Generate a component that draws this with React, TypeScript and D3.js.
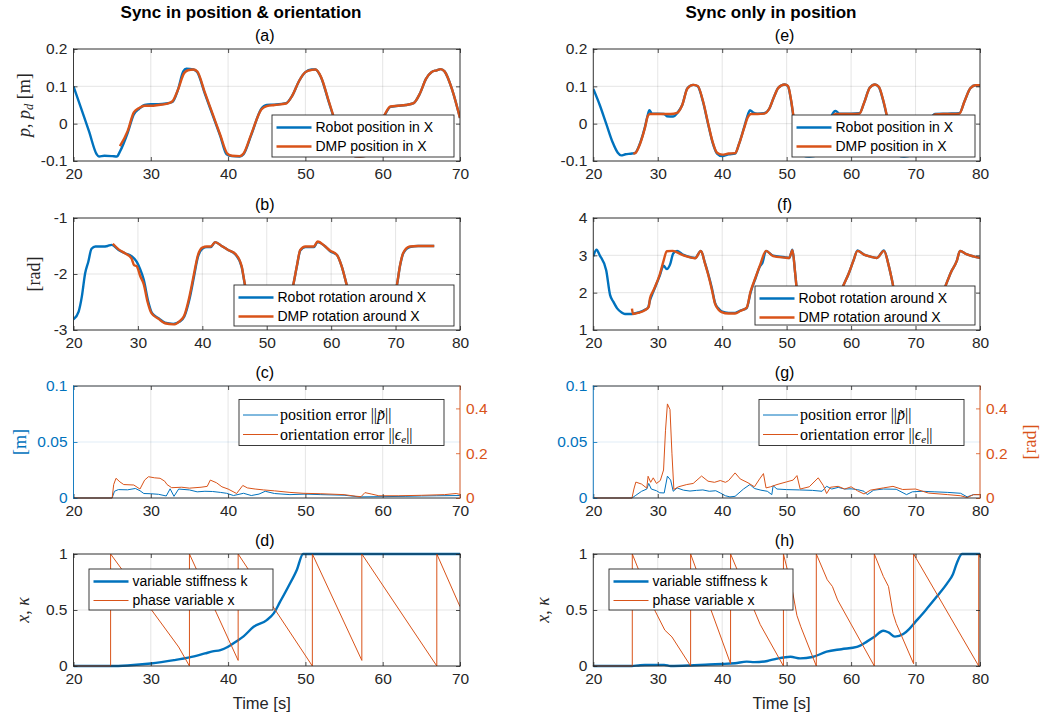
import React, { useEffect, useRef } from 'react';
import * as d3 from 'd3';

const BLUE = '#0072BD';
const ORANGE = '#D95319';
const AXIS = '#262626';
const SANS = '"Liberation Sans", Arial, Helvetica, sans-serif';
const SERIF = '"Liberation Serif", "Times New Roman", serif';

type Pt = [number, number];

// ---- (a) position X, sync in position & orientation
const posA_robot: Pt[] = [
  [20, 0.1], [21, 0.04], [22, -0.02], [23, -0.082], [23.3, -0.088], [24, -0.086], [25, -0.087], [25.6, -0.088],
  [26, -0.075], [27, -0.025], [27.8, 0.025], [28.5, 0.04], [29.2, 0.05], [30, 0.052], [31, 0.052], [32, 0.054],
  [32.8, 0.058], [33.5, 0.09], [34.2, 0.14], [34.6, 0.147], [35.5, 0.145], [36, 0.138], [37, 0.08], [38, 0.023],
  [39, -0.034], [39.8, -0.082], [40.5, -0.087], [41.5, -0.088], [42, -0.082], [43, -0.03], [44.3, 0.04], [45, 0.05],
  [46, 0.051], [47.5, 0.055], [48.3, 0.075], [49.2, 0.115], [50, 0.138], [50.8, 0.145], [51.3, 0.145], [52, 0.125],
  [53, 0.06], [54, -0.005], [55, -0.06], [56, -0.085], [57, -0.088], [57.8, -0.086], [58.5, -0.06], [59.5, -0.01],
  [60.2, 0.02], [61, 0.045], [62, 0.048], [63, 0.05], [64, 0.055], [64.8, 0.08], [65.6, 0.12], [66.3, 0.138],
  [67, 0.143], [67.5, 0.146], [68, 0.14], [69, 0.09], [70, 0.015],
];
const posA_dmp: Pt[] = [
  [26, -0.06], [27, -0.02], [27.8, 0.03], [28.5, 0.042], [29.2, 0.048], [30, 0.048], [31, 0.05], [32, 0.053],
  [32.8, 0.06], [33.5, 0.09], [34.3, 0.135], [34.8, 0.143], [35.5, 0.145], [36, 0.14], [37, 0.083], [38, 0.026],
  [39, -0.031], [39.9, -0.08], [40.5, -0.086], [41.5, -0.087], [42, -0.08], [43, -0.028], [44.3, 0.038], [45, 0.047],
  [46, 0.05], [47.5, 0.054], [48.3, 0.075], [49.2, 0.115], [50, 0.138], [50.8, 0.144], [51.3, 0.145], [52, 0.126],
  [53, 0.062], [54, -0.003], [55, -0.058], [56, -0.084], [57, -0.088], [57.8, -0.086], [58.5, -0.058], [59.5, -0.008],
  [60.2, 0.022], [61, 0.046], [62, 0.048], [63, 0.05], [64, 0.055], [64.8, 0.08], [65.6, 0.12], [66.3, 0.138],
  [67, 0.143], [67.5, 0.146], [68, 0.14], [69, 0.09], [70, 0.015],
];

// ---- (b) rotation X
const rotB_robot: Pt[] = [
  [20, -2.81], [20.8, -2.67], [21.3, -2.4], [21.8, -1.99], [22.3, -1.78], [22.8, -1.55], [23.4, -1.51], [24.5, -1.51],
  [25.3, -1.5], [25.9, -1.48], [27, -1.57], [28, -1.63], [29, -1.68], [29.8, -1.78], [30.3, -1.9], [30.9, -2.1],
  [31.6, -2.49], [32.2, -2.7], [33.2, -2.79], [34.2, -2.87], [35.5, -2.89], [36.5, -2.85], [37.2, -2.76], [38, -2.45],
  [38.7, -2.05], [39.3, -1.7], [40, -1.55], [40.7, -1.52], [41.3, -1.52], [42, -1.43], [43, -1.5], [44, -1.57],
  [45.2, -1.66], [46.1, -1.87], [46.6, -2.19], [47.5, -2.6], [48.5, -2.8], [50, -2.88], [51.5, -2.87], [52.5, -2.75],
  [53.4, -2.45], [54.1, -2.2], [54.7, -1.85], [55.2, -1.58], [56, -1.52], [57.3, -1.52], [57.9, -1.43], [59, -1.5],
  [59.8, -1.59], [60.9, -1.66], [61.6, -1.85], [62.4, -2.19], [63.3, -2.6], [64.3, -2.82], [66, -2.88], [67.5, -2.87],
  [68.6, -2.75], [69.5, -2.45], [70.2, -2.2], [70.7, -1.85], [71.2, -1.63], [72.2, -1.52], [73.5, -1.5], [76, -1.5],
];
const rotB_dmp: Pt[] = [
  [26.1, -1.46], [27, -1.56], [28, -1.63], [29, -1.72], [29.4, -1.84], [29.8, -1.86], [30.4, -2.05], [30.9, -2.18],
  [31.5, -2.5], [32.1, -2.7], [33.2, -2.8], [34.2, -2.88], [35.5, -2.9], [36.5, -2.84], [37.2, -2.74], [38, -2.4],
  [38.7, -2.0], [39.3, -1.67], [40, -1.53], [40.7, -1.51], [41.3, -1.51], [42, -1.43], [43, -1.5], [44, -1.57],
  [45.2, -1.65], [46.1, -1.86], [46.6, -2.18], [47.5, -2.6], [48.5, -2.8], [50, -2.88], [51.5, -2.87], [52.5, -2.75],
  [53.4, -2.45], [54.1, -2.2], [54.7, -1.84], [55.2, -1.57], [56, -1.51], [57.3, -1.51], [57.9, -1.42], [59, -1.5],
  [59.8, -1.58], [60.9, -1.66], [61.6, -1.85], [62.4, -2.19], [63.3, -2.6], [64.3, -2.82], [66, -2.88], [67.5, -2.87],
  [68.6, -2.75], [69.5, -2.45], [70.2, -2.2], [70.7, -1.84], [71.2, -1.62], [72.2, -1.51], [73.5, -1.5], [76, -1.5],
];

// ---- (c) tracking errors
const errC_pos: Pt[] = [
  [20, 0], [25, 0], [25.3, 0.006], [25.8, 0.0075], [27, 0.0073], [28, 0.0085], [28.6, 0.0065], [29.1, 0.004],
  [30, 0.0038], [31, 0.0033], [32, 0.0018], [32.5, 0.0082], [33, 0.0015], [33.6, 0.008], [35, 0.0072], [36, 0.0055],
  [37, 0.006], [38, 0.0058], [39, 0.005], [39.8, 0.0042], [40.7, 0.0022], [42, 0.0042], [43, 0.0022], [44, 0.0035],
  [44.8, 0.006], [46, 0.004], [48, 0.003], [50, 0.0035], [52, 0.003], [55, 0.0025], [57, 0.001], [60, 0.0012],
  [63, 0.0015], [65, 0.0018], [67, 0.002], [70, 0.0022],
];
const errC_rot: Pt[] = [
  [20, 0], [25, 0], [25.2, 0.06], [25.5, 0.088], [26, 0.072], [26.5, 0.06], [27.8, 0.058], [28.6, 0.04],
  [29.2, 0.08], [29.7, 0.095], [30.5, 0.09], [31.2, 0.088], [31.8, 0.075], [32.1, 0.06], [32.7, 0.046], [34, 0.048],
  [35, 0.044], [36.5, 0.048], [37.3, 0.052], [37.7, 0.08], [38.5, 0.068], [39.2, 0.05], [40, 0.04], [41.1, 0.02],
  [41.9, 0.056], [42.5, 0.045], [43.5, 0.04], [44.6, 0.036], [46, 0.032], [48, 0.025], [49.7, 0.021], [52, 0.019],
  [55, 0.015], [56.5, 0.008], [57.2, 0.006], [57.7, 0.024], [58.5, 0.018], [59.5, 0.01], [62, 0.01], [65, 0.012],
  [68, 0.015], [69.5, 0.02], [70, 0.016],
];

// ---- (d) stiffness and phase
const stiffD: Pt[] = [
  [20, 0], [24.8, 0], [27, 0.005], [30, 0.022], [33, 0.052], [35, 0.077], [37, 0.112], [38, 0.13], [39, 0.142],
  [40, 0.172], [41, 0.217], [42, 0.265], [43.3, 0.35], [45, 0.41], [45.9, 0.47], [46.7, 0.57], [47.8, 0.71],
  [48.9, 0.86], [49.7, 1.0], [70, 1.0],
];
const phaseD: Pt[] = [
  [20, 0], [24.8, 0], [24.8, 1], [33.6, 0.17], [35, 0], [35, 1], [41.3, 0.05], [41.3, 1], [50.9, 0], [50.9, 1],
  [57.3, 0.05], [57.3, 1], [67, 0], [67, 1], [70, 0.53],
];

// ---- (e) position X, sync only in position
const posE_robot: Pt[] = [
  [20, 0.093], [21, 0.05], [22, 0.0], [23, -0.05], [23.8, -0.078], [24.3, -0.085], [25, -0.082], [26, -0.08],
  [26.5, -0.078], [27.3, -0.05], [28, -0.01], [28.4, 0.02], [28.7, 0.036], [29.1, 0.027], [30, 0.027], [31, 0.026],
  [31.4, 0.02], [32.4, 0.019], [33, 0.028], [33.8, 0.05], [34.6, 0.095], [35.5, 0.104], [36.2, 0.1], [37, 0.06],
  [37.8, 0.0], [38.5, -0.05], [39.2, -0.08], [40, -0.087], [41, -0.082], [42, -0.08], [42.6, -0.055], [43.4, -0.01],
  [44, 0.025], [44.3, 0.036], [44.8, 0.03], [45.5, 0.027], [46.5, 0.028], [47.3, 0.04], [48, 0.07], [48.7, 0.096],
  [49.7, 0.105], [50.2, 0.1], [50.7, 0.06], [51.2, 0.0], [51.8, -0.055], [52.5, -0.085], [53.5, -0.088], [55, -0.083],
  [55.8, -0.06], [56.5, -0.01], [57, 0.022], [57.6, 0.034], [58.2, 0.027], [60, 0.027], [61.3, 0.028], [62, 0.055],
  [62.9, 0.097], [63.7, 0.105], [64.3, 0.098], [65, 0.06], [65.8, 0.0], [66.6, -0.06], [67.3, -0.085], [68.2, -0.088],
  [69.5, -0.083], [70.5, -0.07], [71.5, -0.03], [72.3, 0.01], [73, 0.026], [75, 0.027], [76.8, 0.028], [77.6, 0.06],
  [78.5, 0.095], [79.3, 0.103], [80, 0.102],
];
const posE_dmp: Pt[] = [
  [26.2, -0.08], [26.5, -0.079], [27.3, -0.052], [28, -0.012], [28.5, 0.022], [28.8, 0.026], [30, 0.026], [31, 0.026],
  [32, 0.026], [33, 0.029], [33.8, 0.05], [34.6, 0.094], [35.5, 0.104], [36.2, 0.101], [37, 0.062], [37.8, 0.002],
  [38.5, -0.048], [39.2, -0.078], [40, -0.083], [41, -0.08], [42, -0.079], [42.6, -0.055], [43.4, -0.012], [44, 0.018],
  [44.5, 0.026], [45.5, 0.026], [46.5, 0.027], [47.3, 0.04], [48, 0.07], [48.7, 0.096], [49.7, 0.105], [50.2, 0.101],
  [50.7, 0.062], [51.2, 0.002], [51.8, -0.053], [52.5, -0.083], [53.5, -0.086], [55, -0.082], [55.8, -0.058],
  [56.5, -0.01], [57, 0.018], [57.6, 0.026], [58.2, 0.026], [60, 0.026], [61.3, 0.027], [62, 0.055], [62.9, 0.096],
  [63.7, 0.105], [64.3, 0.099], [65, 0.062], [65.8, 0.002], [66.6, -0.058], [67.3, -0.083], [68.2, -0.086],
  [69.5, -0.082], [70.5, -0.068], [71.5, -0.03], [72.3, 0.008], [73, 0.025], [75, 0.026], [76.8, 0.027], [77.6, 0.06],
  [78.5, 0.095], [79.3, 0.103], [80, 0.103],
];

// ---- (f) rotation X
const rotF_robot: Pt[] = [
  [20, 2.97], [20.5, 3.15], [21, 3.0], [22, 2.6], [22.6, 1.94], [23.1, 1.76], [23.7, 1.58], [24.4, 1.47],
  [24.9, 1.43], [26, 1.43], [27, 1.47], [28, 1.54], [28.5, 1.6], [28.8, 1.8], [29.3, 2.02], [30.3, 2.45],
  [30.9, 2.72], [31.4, 2.63], [31.9, 2.75], [32.4, 3.05], [33, 3.12], [33.8, 3.03], [34.5, 2.98], [35.8, 2.93],
  [36.7, 3.12], [37.3, 2.81], [37.8, 2.52], [38.4, 2.12], [38.9, 1.72], [39.4, 1.58], [39.9, 1.5], [41, 1.46],
  [42, 1.46], [42.8, 1.52], [43.8, 1.59], [44.4, 2.0], [45.2, 2.4], [45.9, 2.72], [46.2, 2.78], [46.8, 3.12],
  [47.9, 2.99], [49.7, 2.95], [50.4, 2.93], [50.9, 3.15], [51.3, 2.56], [51.6, 2.05], [52.2, 1.65], [53, 1.48],
  [54.5, 1.45], [56, 1.47], [57, 1.54], [58, 1.85], [58.8, 2.19], [59.6, 2.5], [60.35, 2.85], [61, 3.13],
  [62, 3.02], [62.9, 2.97], [64, 2.93], [65.1, 3.13], [65.8, 2.75], [66.3, 2.37], [66.8, 1.95], [67.6, 1.58],
  [68.5, 1.47], [70.5, 1.45], [72.5, 1.52], [73.5, 1.7], [74.6, 2.16], [75.5, 2.55], [76.4, 2.85], [76.9, 3.12],
  [77.9, 3.03], [79, 2.97], [80, 2.93],
];
const rotF_dmp: Pt[] = [
  [26, 1.57], [26.15, 1.43], [27, 1.46], [28, 1.53], [28.6, 1.62], [28.8, 1.85], [29.3, 2.05], [30.3, 2.48],
  [30.9, 2.85], [31.4, 3.11], [32.3, 3.12], [33, 3.08], [33.8, 3.01], [34.5, 2.97], [35.8, 2.92], [36.7, 3.12],
  [37.3, 2.8], [37.8, 2.5], [38.4, 2.08], [38.9, 1.7], [39.4, 1.55], [39.9, 1.48], [41, 1.44], [42, 1.44],
  [42.8, 1.51], [43.8, 1.6], [44.4, 2.03], [45.2, 2.42], [45.9, 2.75], [46.8, 3.12], [47.9, 2.98], [49.7, 2.94],
  [50.4, 2.93], [50.9, 3.14], [51.3, 2.56], [51.6, 2.05], [52.2, 1.65], [53, 1.48], [54.5, 1.45], [56, 1.47],
  [57, 1.54], [58, 1.85], [58.8, 2.19], [59.6, 2.5], [60.35, 2.85], [61, 3.12], [62, 3.02], [62.9, 2.97],
  [64, 2.93], [65.1, 3.12], [65.8, 2.75], [66.3, 2.37], [66.8, 1.95], [67.6, 1.58], [68.5, 1.47], [70.5, 1.45],
  [72.5, 1.52], [73.5, 1.7], [74.6, 2.16], [75.5, 2.55], [76.4, 2.85], [76.9, 3.12], [77.9, 3.03], [79, 2.97],
  [80, 2.93],
];

// ---- (g) tracking errors
const errG_pos: Pt[] = [
  [20, 0], [26, 0], [26.5, 0.002], [27.5, 0.006], [28.3, 0.008], [28.6, 0.013], [29, 0.008], [29.8, 0.0065],
  [30.3, 0.0047], [31, 0.0045], [31.5, 0.0195], [32, 0.016], [32.4, 0.006], [33, 0.009], [34, 0.007], [35, 0.0062],
  [36, 0.0068], [37, 0.0072], [38, 0.006], [39, 0.0065], [39.7, 0.0045], [40.5, 0.002], [41.2, 0.001], [42, 0.0015],
  [43.3, 0.008], [44.3, 0.012], [45, 0.0085], [46, 0.007], [47, 0.006], [47.7, 0.003], [47.9, 0.011], [48.5, 0.008],
  [50, 0.0075], [52, 0.0072], [54, 0.0068], [55.5, 0.006], [56.2, 0.0105], [57, 0.008], [58, 0.0095], [59, 0.008],
  [60, 0.0082], [61, 0.0075], [62, 0.006], [62.5, 0.003], [63.5, 0.007], [65, 0.008], [67, 0.0078], [68.6, 0.003],
  [69.5, 0.0055], [71, 0.006], [73, 0.0055], [75, 0.005], [77, 0.0042], [78, 0.001], [79, 0.003], [80, 0.003],
];
const errG_rot: Pt[] = [
  [20, 0], [26, 0], [26.3, 0.04], [26.6, 0.071], [27.5, 0.062], [28.3, 0.044], [28.5, 0.097], [28.9, 0.07],
  [29.3, 0.09], [29.8, 0.065], [30.4, 0.078], [30.9, 0.125], [31.2, 0.3], [31.5, 0.42], [31.9, 0.395], [32.2, 0.2],
  [32.5, 0.038], [33.2, 0.05], [34.5, 0.06], [35.5, 0.065], [36.8, 0.098], [37.8, 0.075], [38.8, 0.07], [39.7, 0.078],
  [40.5, 0.07], [41, 0.078], [42, 0.112], [42.8, 0.085], [44, 0.068], [45, 0.05], [45.8, 0.085], [46.4, 0.109],
  [46.8, 0.045], [47.5, 0.05], [48.5, 0.06], [50, 0.072], [51, 0.08], [51.6, 0.1], [52.1, 0.04], [53.5, 0.05],
  [54.9, 0.09], [55.7, 0.055], [56.2, 0.02], [56.8, 0.048], [58, 0.052], [59, 0.04], [60, 0.05], [61, 0.032],
  [62, 0.018], [63, 0.035], [65, 0.045], [66.5, 0.052], [68, 0.038], [70, 0.04], [72, 0.022], [75, 0.015],
  [77, 0.01], [78, 0.002], [79, 0.015], [80, 0.015],
];

// ---- (h) stiffness and phase
const stiffH: Pt[] = [
  [20, 0], [26, 0], [27, 0.005], [28, 0.009], [31, 0.01], [32, 0.0], [35, 0.005], [38, 0.014], [40, 0.018],
  [42, 0.025], [43.8, 0.039], [45, 0.035], [47, 0.045], [48.5, 0.066], [50.6, 0.083], [52.1, 0.068], [54, 0.08],
  [56.2, 0.128], [58.5, 0.15], [60.9, 0.17], [62.5, 0.22], [63.5, 0.256], [65, 0.315], [65.8, 0.3], [66.8, 0.262],
  [68.1, 0.285], [69, 0.33], [70, 0.396], [71, 0.46], [71.8, 0.515], [73.3, 0.62], [74.9, 0.738], [75.8, 0.82],
  [76.4, 0.917], [77.2, 1.0], [80, 1.0],
];
const phaseH: Pt[] = [
  [20, 0], [26.05, 0], [26.05, 1], [29.6, 0.49], [31.1, 0.32], [32.2, 0.26], [35.1, 0], [35.1, 1], [41.3, 0.02],
  [41.3, 1], [45.9, 0.37], [49.5, 0], [49.5, 1], [50.8, 0.7], [51.6, 0.45], [52.2, 0.35], [54.6, 0], [54.6, 1],
  [56.3, 0.77], [57.1, 0.71], [57.9, 0.59], [63.6, 0], [63.6, 1], [65, 0.8], [65.8, 0.71], [66.5, 0.47], [67, 0.38],
  [69.7, 0.02], [69.7, 1], [79.8, 0], [79.8, 1], [80, 0.97],
];

const ticks70 = [20, 30, 40, 50, 60, 70];
const ticks80 = [20, 30, 40, 50, 60, 70, 80];
const colTitles = ['Sync in position & orientation', 'Sync only in position'];
const legendPos = ['Robot position in X', 'DMP position in X'];
const legendRot = ['Robot rotation around X', 'DMP rotation around X'];
const legendStiff = ['variable stiffness k', 'phase variable x'];

// layout
const W = 1047;
const H = 720;
const COLS = [{ x0: 73.5, x1: 460 }, { x0: 593.3, x1: 980 }];
const ROWS = [49, 218, 386, 554];
const PH = 112;

type Series = { data: Pt[]; color: string; width: number; right?: boolean; smooth?: boolean };
type Legend = { x: number; y: number; w: number; h: number; serif?: boolean; labels: string[] };
type Panel = {
  key: string; col: number; row: number; title: string;
  xDomain: [number, number]; xTicks: number[];
  yDomain: [number, number]; yTicks: number[];
  right?: { domain: [number, number]; ticks: number[]; label?: boolean };
  yLabel?: 'pos' | 'rad' | 'm' | 'xk';
  xLabel?: boolean;
  series: Series[]; legend: Legend;
};

const thick = 2.4;
const PANELS: Panel[] = [
  {
    key: 'a', col: 0, row: 0, title: '(a)', xDomain: [20, 70], xTicks: ticks70,
    yDomain: [-0.1, 0.2], yTicks: [-0.1, 0, 0.1, 0.2], yLabel: 'pos',
    series: [
      { data: posA_robot, color: BLUE, width: thick, smooth: true },
      { data: posA_dmp, color: ORANGE, width: thick, smooth: true },
    ],
    legend: { x: 272, y: 115, w: 182, h: 42, labels: legendPos },
  },
  {
    key: 'b', col: 0, row: 1, title: '(b)', xDomain: [20, 80], xTicks: ticks80,
    yDomain: [-3, -1], yTicks: [-3, -2, -1], yLabel: 'rad',
    series: [
      { data: rotB_robot, color: BLUE, width: thick, smooth: true },
      { data: rotB_dmp, color: ORANGE, width: thick, smooth: true },
    ],
    legend: { x: 234, y: 285, w: 220, h: 41, labels: legendRot },
  },
  {
    key: 'c', col: 0, row: 2, title: '(c)', xDomain: [20, 70], xTicks: ticks70,
    yDomain: [0, 0.1], yTicks: [0, 0.05, 0.1], yLabel: 'm',
    right: { domain: [0, 0.5], ticks: [0, 0.2, 0.4] },
    series: [
      { data: errC_pos, color: BLUE, width: 1 },
      { data: errC_rot, color: ORANGE, width: 1, right: true },
    ],
    legend: { x: 239, y: 399.5, w: 205, h: 46, serif: true, labels: [] },
  },
  {
    key: 'd', col: 0, row: 3, title: '(d)', xDomain: [20, 70], xTicks: ticks70,
    yDomain: [0, 1], yTicks: [0, 0.5, 1], yLabel: 'xk', xLabel: true,
    series: [
      { data: stiffD, color: BLUE, width: thick, smooth: true },
      { data: phaseD, color: ORANGE, width: 1 },
    ],
    legend: { x: 89, y: 569, w: 184, h: 41, labels: legendStiff },
  },
  {
    key: 'e', col: 1, row: 0, title: '(e)', xDomain: [20, 80], xTicks: ticks80,
    yDomain: [-0.1, 0.2], yTicks: [-0.1, 0, 0.1, 0.2],
    series: [
      { data: posE_robot, color: BLUE, width: thick, smooth: true },
      { data: posE_dmp, color: ORANGE, width: thick, smooth: true },
    ],
    legend: { x: 792, y: 115, w: 183, h: 42, labels: legendPos },
  },
  {
    key: 'f', col: 1, row: 1, title: '(f)', xDomain: [20, 80], xTicks: ticks80,
    yDomain: [1, 4], yTicks: [1, 2, 3, 4],
    series: [
      { data: rotF_robot, color: BLUE, width: thick, smooth: true },
      { data: rotF_dmp, color: ORANGE, width: thick, smooth: true },
    ],
    legend: { x: 755, y: 286, w: 220, h: 39, labels: legendRot },
  },
  {
    key: 'g', col: 1, row: 2, title: '(g)', xDomain: [20, 80], xTicks: ticks80,
    yDomain: [0, 0.1], yTicks: [0, 0.05, 0.1],
    right: { domain: [0, 0.5], ticks: [0, 0.2, 0.4], label: true },
    series: [
      { data: errG_pos, color: BLUE, width: 1 },
      { data: errG_rot, color: ORANGE, width: 1, right: true },
    ],
    legend: { x: 759, y: 399.5, w: 205, h: 46, serif: true, labels: [] },
  },
  {
    key: 'h', col: 1, row: 3, title: '(h)', xDomain: [20, 80], xTicks: ticks80,
    yDomain: [0, 1], yTicks: [0, 0.5, 1], yLabel: 'xk', xLabel: true,
    series: [
      { data: stiffH, color: BLUE, width: thick, smooth: true },
      { data: phaseH, color: ORANGE, width: 1 },
    ],
    legend: { x: 609, y: 569, w: 184, h: 41, labels: legendStiff },
  },
];

const fmt = (d: d3.NumberValue) => String(+d);

function styleAxis(g: any, color: string) {
  g.select('.domain').remove();
  g.attr('font-size', 15.5).attr('font-family', SANS);
  g.selectAll('line').attr('stroke', color).attr('stroke-width', 0.8);
  g.selectAll('text').attr('fill', color);
}

function drawPanel(svg: any, p: Panel) {
  const col = COLS[p.col];
  const top = ROWS[p.row];
  const bottom = top + PH;
  const x = d3.scaleLinear().domain(p.xDomain).range([col.x0, col.x1]);
  const y = d3.scaleLinear().domain(p.yDomain).range([bottom, top]);
  const yR = p.right ? d3.scaleLinear().domain(p.right.domain).range([bottom, top]) : y;
  const g = svg.append('g').attr('class', 'panel-' + p.key);

  // grid
  g.selectAll('.gx').data(p.xTicks).enter().append('line')
    .attr('x1', (d: number) => x(d)).attr('x2', (d: number) => x(d))
    .attr('y1', top).attr('y2', bottom)
    .attr('stroke', AXIS).attr('stroke-opacity', 0.15).attr('stroke-width', 0.8);
  g.selectAll('.gy').data(p.yTicks).enter().append('line')
    .attr('x1', col.x0).attr('x2', col.x1)
    .attr('y1', (d: number) => y(d)).attr('y2', (d: number) => y(d))
    .attr('stroke', p.right ? BLUE : AXIS).attr('stroke-opacity', 0.15).attr('stroke-width', 0.8);

  // data
  const clipId = 'clip-' + p.key;
  svg.append('clipPath').attr('id', clipId).append('rect')
    .attr('x', col.x0).attr('y', top - 2).attr('width', col.x1 - col.x0).attr('height', PH + 4);
  p.series.forEach(s => {
    const sc = s.right ? yR : y;
    const line = d3.line<Pt>()
      .x(d => x(d[0]))
      .y(d => sc(d[1]))
      .curve(s.smooth ? d3.curveMonotoneX : d3.curveLinear);
    g.append('path')
      .attr('d', line(s.data))
      .attr('fill', 'none')
      .attr('stroke', s.color)
      .attr('stroke-width', s.width)
      .attr('stroke-linejoin', 'round')
      .attr('clip-path', `url(#${clipId})`);
  });

  // axes
  const bx = g.append('g').attr('transform', `translate(0,${bottom})`)
    .call(d3.axisBottom(x).tickValues(p.xTicks).tickSizeInner(-4).tickSizeOuter(0).tickPadding(7).tickFormat(fmt));
  styleAxis(bx, AXIS);
  const tx = g.append('g').attr('transform', `translate(0,${top})`)
    .call(d3.axisTop(x).tickValues(p.xTicks).tickSizeInner(-4).tickSizeOuter(0).tickFormat(() => ''));
  styleAxis(tx, AXIS);
  const leftColor = p.right ? BLUE : AXIS;
  const ly = g.append('g').attr('transform', `translate(${col.x0},0)`)
    .call(d3.axisLeft(y).tickValues(p.yTicks).tickSizeInner(-4).tickSizeOuter(0).tickPadding(6).tickFormat(fmt));
  styleAxis(ly, leftColor);
  if (p.right) {
    const ry = g.append('g').attr('transform', `translate(${col.x1},0)`)
      .call(d3.axisRight(yR).tickValues(p.right.ticks).tickSizeInner(-4).tickSizeOuter(0).tickPadding(6).tickFormat(fmt));
    styleAxis(ry, ORANGE);
  } else {
    const ry = g.append('g').attr('transform', `translate(${col.x1},0)`)
      .call(d3.axisRight(y).tickValues(p.yTicks).tickSizeInner(-4).tickSizeOuter(0).tickFormat(() => ''));
    styleAxis(ry, AXIS);
  }

  // box
  const edge = (x1: number, y1: number, x2: number, y2: number, c: string) =>
    g.append('line').attr('x1', x1).attr('y1', y1).attr('x2', x2).attr('y2', y2)
      .attr('stroke', c).attr('stroke-width', 0.9).attr('stroke-linecap', 'square');
  edge(col.x0, top, col.x1, top, AXIS);
  edge(col.x0, bottom, col.x1, bottom, AXIS);
  edge(col.x0, top, col.x0, bottom, leftColor);
  edge(col.x1, top, col.x1, bottom, p.right ? ORANGE : AXIS);

  // legend
  const L = p.legend;
  g.append('rect').attr('x', L.x).attr('y', L.y).attr('width', L.w).attr('height', L.h)
    .attr('fill', '#fff').attr('stroke', AXIS).attr('stroke-width', 0.9);
  const rowY = L.serif ? [L.y + 15.5, L.y + 35] : [L.y + 12.5, L.y + 31.5];
  const lineStart = L.serif ? 4 : 4.5;
  const textStart = L.serif ? 41 : 43.5;
  p.series.forEach((s, i) => {
    g.append('line')
      .attr('x1', L.x + lineStart).attr('x2', L.x + lineStart + 35)
      .attr('y1', rowY[i]).attr('y2', rowY[i])
      .attr('stroke', s.color).attr('stroke-width', s.width);
    const t = g.append('text')
      .attr('x', L.x + textStart).attr('y', rowY[i]).attr('dy', '0.33em')
      .attr('fill', '#000')
      .attr('font-family', L.serif ? SERIF : SANS)
      .attr('font-size', L.serif ? 16 : 14);
    if (!L.serif) {
      t.text(L.labels[i]);
    } else if (i === 0) {
      t.append('tspan').text('position error ||');
      t.append('tspan').attr('font-style', 'italic').text('p\u0303');
      t.append('tspan').text('||');
    } else {
      t.append('tspan').text('orientation error ||');
      t.append('tspan').attr('font-style', 'italic').text('\u03F5');
      t.append('tspan').attr('font-style', 'italic').attr('font-size', 11).attr('dy', 3).text('e');
      t.append('tspan').attr('dy', -3).text('||');
    }
  });

  // subplot title
  const cx = (col.x0 + col.x1) / 2;
  g.append('text').attr('x', cx - 2).attr('y', top - 8.5).attr('text-anchor', 'middle')
    .attr('font-family', SANS).attr('font-size', 16).attr('fill', '#000').text(p.title);

  // x label
  if (p.xLabel) {
    g.append('text').attr('x', cx - 5).attr('y', bottom + 43).attr('text-anchor', 'middle')
      .attr('font-family', SANS).attr('font-size', 16.5).attr('fill', AXIS).text('Time [s]');
  }

  // y labels
  const cy = (top + bottom) / 2;
  const ylab = (xc: number, color: string) =>
    g.append('text')
      .attr('transform', `translate(${xc},${cy}) rotate(-90)`)
      .attr('text-anchor', 'middle').attr('dy', '0.3em')
      .attr('font-family', SERIF).attr('font-size', 18).attr('fill', color);
  if (p.yLabel === 'pos') {
    const t = ylab(col.x0 - 49, AXIS);
    t.append('tspan').attr('font-style', 'italic').text('p');
    t.append('tspan').text(', ');
    t.append('tspan').attr('font-style', 'italic').text('p');
    t.append('tspan').attr('font-style', 'italic').attr('font-size', 12.5).attr('dy', 3.5).text('d');
    t.append('tspan').attr('dy', -3.5).text(' [m]');
  } else if (p.yLabel === 'rad') {
    ylab(col.x0 - 39, AXIS).text('[rad]');
  } else if (p.yLabel === 'm') {
    ylab(col.x0 - 53, BLUE).text('[m]');
  } else if (p.yLabel === 'xk') {
    const t = ylab(col.x0 - 50, AXIS);
    t.append('tspan').attr('font-style', 'italic').text('x');
    t.append('tspan').text(', ');
    t.append('tspan').attr('font-style', 'italic').text('\u03BA');
  }
  if (p.right && p.right.label) {
    ylab(col.x1 + 51, ORANGE).text('[rad]');
  }
}

export default function App() {
  const ref = useRef<SVGSVGElement>(null);

  useEffect(() => {
    const svg = d3.select(ref.current);
    svg.selectAll('*').remove();
    svg.append('rect').attr('width', W).attr('height', H).attr('fill', '#fff');
    PANELS.forEach(p => drawPanel(svg, p));
    svg.selectAll('.coltitle').data(colTitles).enter().append('text')
      .attr('x', (_d: string, i: number) => (i === 0 ? 241 : 771))
      .attr('y', 18)
      .attr('text-anchor', 'middle')
      .attr('font-family', SANS)
      .attr('font-weight', 'bold')
      .attr('font-size', 17)
      .attr('fill', '#000')
      .text((d: string) => d);
  }, []);

  return (
    <svg
      ref={ref}
      width={W}
      height={H}
      style={{ position: 'absolute', left: 0, top: 0, display: 'block' }}
    />
  );
}
